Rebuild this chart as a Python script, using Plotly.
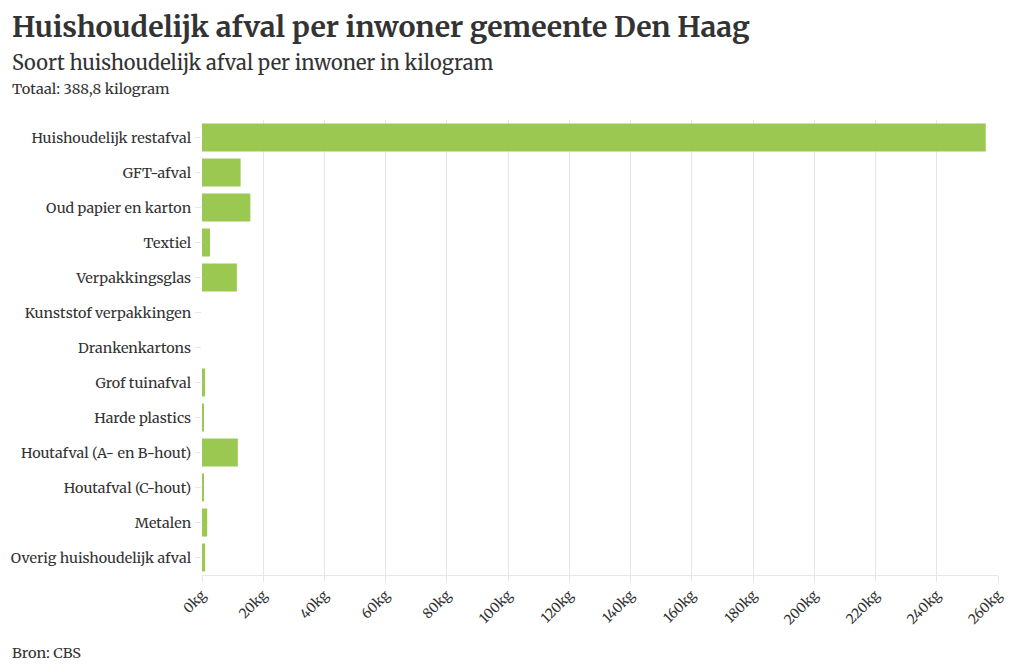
import plotly.graph_objects as go

categories = [
    "Huishoudelijk restafval", "GFT-afval", "Oud papier en karton", "Textiel",
    "Verpakkingsglas", "Kunststof verpakkingen", "Drankenkartons", "Grof tuinafval",
    "Harde plastics", "Houtafval (A- en B-hout)", "Houtafval (C-hout)", "Metalen",
    "Overig huishoudelijk afval",
]
values = [256.0, 12.6, 15.8, 2.6, 11.4, 0.0, 0.0, 1.0, 0.4, 11.7, 0.5, 1.7, 1.0]
tick_vals = list(range(0, 261, 20))
tick_text = [f"{v}kg" for v in tick_vals]

FONT = "Merriweather, DejaVu Serif, serif"
TXT = "#333333"
GRID = "#e6e6e6"

W, H = 1020, 672
l, r, t, b = 202, 22, 120, 97
pw, ph = W - l - r, H - t - b

fig = go.Figure(go.Bar(
    x=values, y=categories, orientation="h",
    marker=dict(color="#9BC850", line=dict(width=0)),
    hovertemplate="%{y}: %{x} kg<extra></extra>",
))

fig.update_layout(
    width=W, height=H,
    margin=dict(l=l, r=r, t=t, b=b, autoexpand=False),
    paper_bgcolor="white", plot_bgcolor="white",
    font=dict(family=FONT, color=TXT, size=14),
    bargap=0.2,
    showlegend=False,
    xaxis=dict(
        range=[0, 260], tickvals=tick_vals, ticktext=tick_text,
        tickangle=-45, showgrid=True, gridcolor=GRID, gridwidth=1,
        zeroline=False, showline=True, linecolor=GRID, linewidth=1,
        ticks="outside", ticklen=6, tickcolor=GRID, tickwidth=1,
        tickfont=dict(size=13.5, color=TXT),
        fixedrange=True, automargin=False,
    ),
    yaxis=dict(
        categoryorder="array", categoryarray=categories, autorange="reversed",
        showgrid=False, zeroline=False, showline=False,
        ticks="outside", ticklen=6, tickcolor=GRID, tickwidth=1, ticklabelstandoff=1,
        tickfont=dict(size=14.3, color=TXT), fixedrange=True, automargin=False,
    ),
)


def px(xp):
    return (xp - l) / pw


def py(yp):
    return (H - b - yp) / ph


texts = [
    ("<b>Huishoudelijk afval per inwoner gemeente Den Haag</b>", 10, 27, 28.4),
    ("Soort huishoudelijk afval per inwoner in kilogram", 10, 62, 20),
    ("Totaal: 388,8 kilogram", 10, 89, 14.6),
    ("Bron: CBS", 10, 653, 14.6),
]
for txt, x, y, s in texts:
    fig.add_annotation(
        text=txt, x=px(x), y=py(y), xref="paper", yref="paper",
        xanchor="left", yanchor="middle", showarrow=False,
        font=dict(family=FONT, size=s, color=TXT),
    )

fig.write_html(
    "out.html",
    config={"displayModeBar": False},
    post_script="document.body.style.margin='0';",
)
